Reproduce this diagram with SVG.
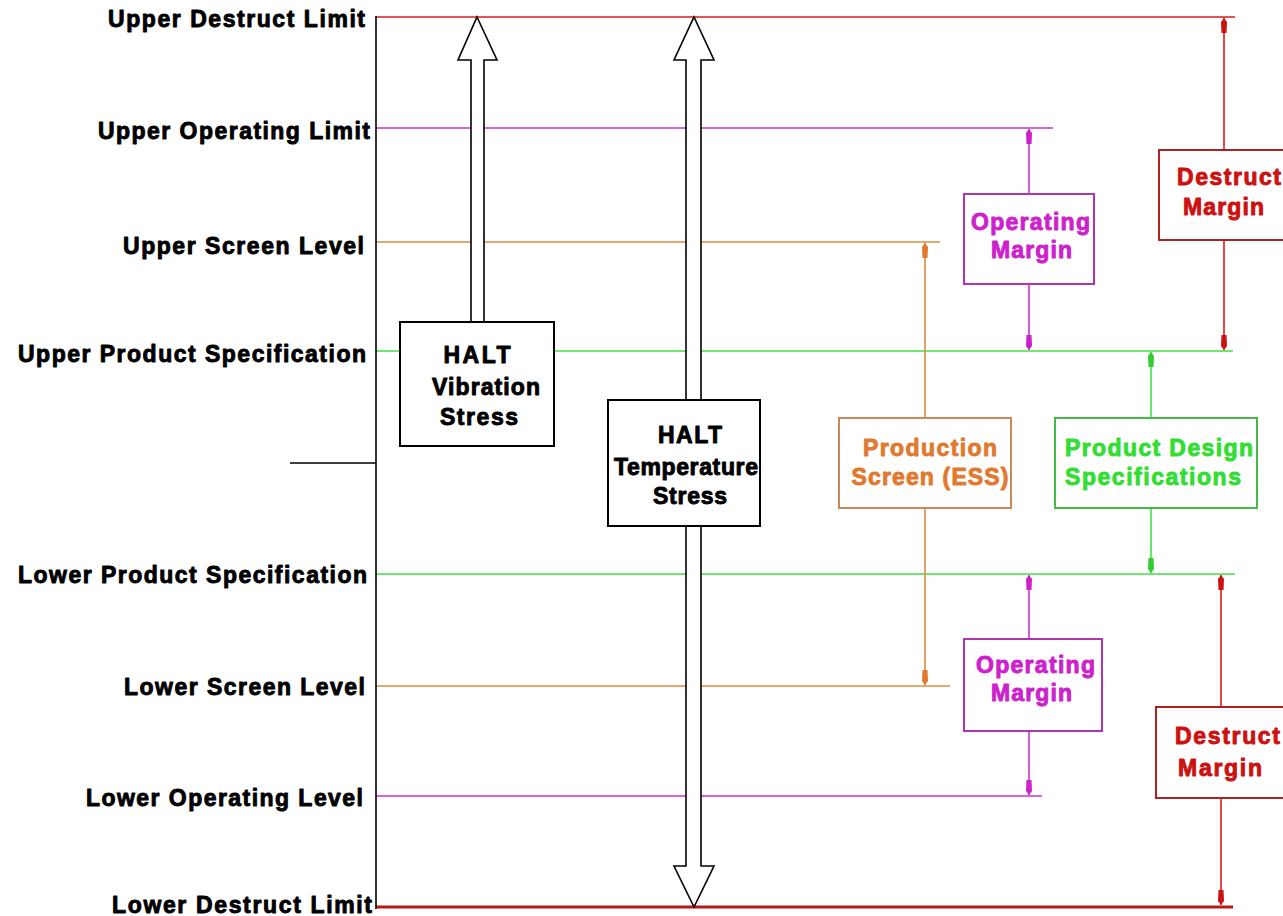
<svg xmlns="http://www.w3.org/2000/svg" width="1283" height="916" viewBox="0 0 1283 916">
<style>
text{font-family:"Liberation Sans",Arial,sans-serif;font-weight:bold;font-size:23px;stroke-width:0.9;stroke-linejoin:round}
.lbl{fill:#000;stroke:#000;text-anchor:end}
.blk{fill:#000;stroke:#000;text-anchor:middle}
.tr{fill:#cc1111;stroke:#cc1111}
.tm{fill:#cc22cc;stroke:#cc22cc}
.to{fill:#e07a30;stroke:#e07a30}
.tg{fill:#33dd33;stroke:#33dd33}
.ln{fill:none;stroke-width:1.6}
.thick{stroke:#b81818;stroke-width:3}
.red{stroke:#dd1a1a}
.mag{stroke:#cc33cc}
.org{stroke:#e08a40}
.grn{stroke:#44dd44}
.box{fill:#fff;stroke-width:2}
.bigarrow{fill:#fff;stroke:#000;stroke-width:1.6}
</style>
<defs>
<marker id="mr" viewBox="0 0 16 8" refX="16" refY="4" markerWidth="16" markerHeight="8" markerUnits="userSpaceOnUse" orient="auto-start-reverse"><path d="M16,4 L12,1 L1,1.5 L1,6.5 L12,7 Z" fill="#cc1111"/></marker>
<marker id="mm" viewBox="0 0 16 8" refX="16" refY="4" markerWidth="16" markerHeight="8" markerUnits="userSpaceOnUse" orient="auto-start-reverse"><path d="M16,4 L12,1 L1,1.5 L1,6.5 L12,7 Z" fill="#cc22cc"/></marker>
<marker id="mo" viewBox="0 0 16 8" refX="16" refY="4" markerWidth="16" markerHeight="8" markerUnits="userSpaceOnUse" orient="auto-start-reverse"><path d="M16,4 L12,1 L1,1.5 L1,6.5 L12,7 Z" fill="#e07a30"/></marker>
<marker id="mg" viewBox="0 0 16 8" refX="16" refY="4" markerWidth="16" markerHeight="8" markerUnits="userSpaceOnUse" orient="auto-start-reverse"><path d="M16,4 L12,1 L1,1.5 L1,6.5 L12,7 Z" fill="#33cc33"/></marker>
</defs>
<rect x="0" y="0" width="1283" height="916" fill="#fff"/>

<g id="levels">
<line class="ln red" x1="376" y1="17" x2="1235" y2="17"/>
<line class="ln mag" x1="376" y1="128" x2="1053" y2="128"/>
<line class="ln org" x1="376" y1="242" x2="940" y2="242"/>
<line class="ln grn" x1="376" y1="351" x2="1233" y2="351"/>
<line class="ln grn" x1="376" y1="574" x2="1235" y2="574"/>
<line class="ln org" x1="376" y1="686" x2="950" y2="686"/>
<line class="ln mag" x1="376" y1="796" x2="1042" y2="796"/>
<line class="thick" x1="376" y1="907" x2="1233" y2="907"/>
<line class="ln" stroke="#000" x1="376" y1="16" x2="376" y2="909"/>
<line class="ln" stroke="#000" x1="290" y1="463" x2="376" y2="463"/>
</g>

<g id="labels">
<text class="lbl" x="365" y="27" textLength="257" lengthAdjust="spacing">Upper Destruct Limit</text>
<text class="lbl" x="370" y="139" textLength="272" lengthAdjust="spacing">Upper Operating Limit</text>
<text class="lbl" x="364" y="254" textLength="241" lengthAdjust="spacing">Upper Screen Level</text>
<text class="lbl" x="366" y="362" textLength="348" lengthAdjust="spacing">Upper Product Specification</text>
<text class="lbl" x="367" y="583" textLength="349" lengthAdjust="spacing">Lower Product Specification</text>
<text class="lbl" x="365" y="695" textLength="241" lengthAdjust="spacing">Lower Screen Level</text>
<text class="lbl" x="363" y="806" textLength="277" lengthAdjust="spacing">Lower Operating Level</text>
<text class="lbl" x="372" y="913" textLength="260" lengthAdjust="spacing">Lower Destruct Limit</text>
</g>

<g id="connectors">
<line class="ln red" x1="1224" y1="18" x2="1224" y2="350" marker-start="url(#mr)" marker-end="url(#mr)"/>
<line class="ln mag" x1="1029" y1="129" x2="1029" y2="350" marker-start="url(#mm)" marker-end="url(#mm)"/>
<line class="ln org" x1="925" y1="243" x2="925" y2="685" marker-start="url(#mo)" marker-end="url(#mo)"/>
<line class="ln grn" x1="1151" y1="352" x2="1151" y2="573" marker-start="url(#mg)" marker-end="url(#mg)"/>
<line class="ln mag" x1="1029" y1="575" x2="1029" y2="795" marker-start="url(#mm)" marker-end="url(#mm)"/>
<line class="ln red" x1="1221" y1="575" x2="1221" y2="905" marker-start="url(#mr)" marker-end="url(#mr)"/>
</g>

<g id="vibration">
<polygon class="bigarrow" points="477,17 497,60 484,60 484,322 471,322 471,60 458,60"/>
<rect class="box" x="400" y="322" width="154" height="124" stroke="#000"/>
<text class="blk" x="477" y="363" textLength="67" lengthAdjust="spacing">HALT</text>
<text class="blk" x="486" y="395" textLength="108" lengthAdjust="spacing">Vibration</text>
<text class="blk" x="479" y="425" textLength="78" lengthAdjust="spacing">Stress</text>
</g>

<g id="temperature">
<polygon class="bigarrow" points="694,17 714,60 701,60 701,866 714,866 694,907 674,866 686,866 686,60 674,60"/>
<rect class="box" x="608" y="400" width="152" height="126" stroke="#000"/>
<text class="blk" x="690" y="443" textLength="64" lengthAdjust="spacing">HALT</text>
<text class="blk" x="686" y="475" textLength="144" lengthAdjust="spacing">Temperature</text>
<text class="blk" x="690" y="504" textLength="74" lengthAdjust="spacing">Stress</text>
</g>

<g id="production-screen">
<rect class="box" x="839" y="418" width="172" height="90" stroke="#c8885a"/>
<text class="to" x="930" y="456" text-anchor="middle" textLength="134" lengthAdjust="spacing">Production</text>
<text class="to" x="930" y="485" text-anchor="middle" textLength="157" lengthAdjust="spacing">Screen (ESS)</text>
</g>

<g id="product-design">
<rect class="box" x="1055" y="418" width="202" height="90" stroke="#44bb44"/>
<text class="tg" x="1065" y="456" textLength="188" lengthAdjust="spacing">Product Design</text>
<text class="tg" x="1065" y="485" textLength="176" lengthAdjust="spacing">Specifications</text>
</g>

<g id="upper-operating-margin">
<rect class="box" x="964" y="194" width="130" height="90" stroke="#b033b0"/>
<text class="tm" x="971" y="230" textLength="119" lengthAdjust="spacing">Operating</text>
<text class="tm" x="991" y="258" textLength="81" lengthAdjust="spacing">Margin</text>
</g>

<g id="upper-destruct-margin">
<rect class="box" x="1159" y="150" width="140" height="90" stroke="#b02222"/>
<text class="tr" x="1177" y="185" textLength="104" lengthAdjust="spacing">Destruct</text>
<text class="tr" x="1183" y="215" textLength="81" lengthAdjust="spacing">Margin</text>
</g>

<g id="lower-operating-margin">
<rect class="box" x="964" y="639" width="138" height="92" stroke="#b033b0"/>
<text class="tm" x="976" y="673" textLength="119" lengthAdjust="spacing">Operating</text>
<text class="tm" x="991" y="701" textLength="81" lengthAdjust="spacing">Margin</text>
</g>

<g id="lower-destruct-margin">
<rect class="box" x="1156" y="707" width="140" height="91" stroke="#b02222"/>
<text class="tr" x="1175" y="744" textLength="105" lengthAdjust="spacing">Destruct</text>
<text class="tr" x="1178" y="776" textLength="84" lengthAdjust="spacing">Margin</text>
</g>
</svg>
